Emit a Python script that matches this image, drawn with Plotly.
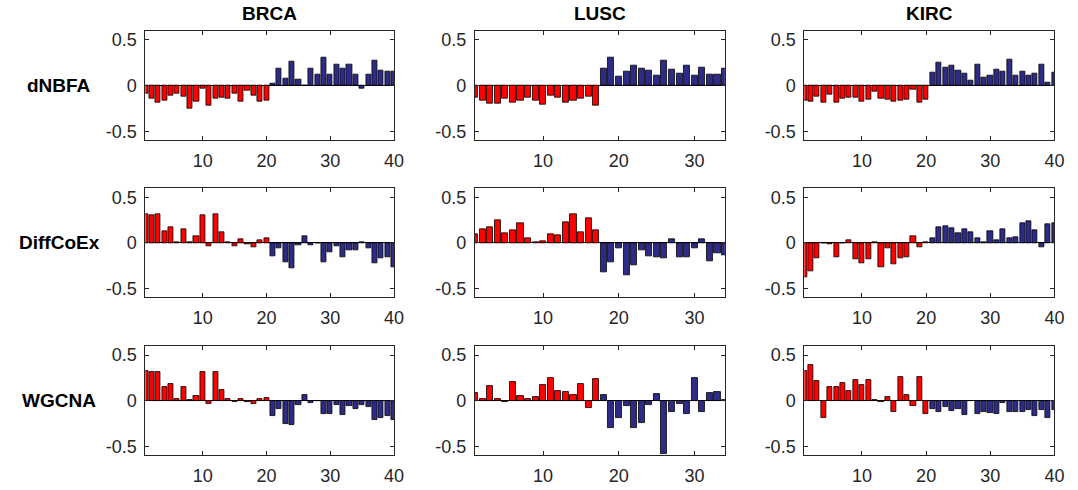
import plotly.graph_objects as go

# ---------------- data ----------------
methods = ["dNBFA", "DiffCoEx", "WGCNA"]
cancers = ["BRCA", "LUSC", "KIRC"]
n_red = {"BRCA": 20, "LUSC": 17, "KIRC": 20}
n_total = {"BRCA": 40, "LUSC": 34, "KIRC": 40}

brca_dnbfa = [-0.09, -0.145, -0.19, -0.17, -0.115, -0.09, -0.125, -0.255, -0.18, -0.035,
              -0.22, -0.14, -0.13, -0.14, -0.09, -0.18, -0.06, -0.115, -0.18, -0.16,
              0.02, 0.19, 0.08, 0.26, 0.065, -0.005, 0.19, 0.115, 0.30, 0.12,
              0.225, 0.18, 0.225, 0.12, -0.03, 0.115, 0.275, 0.16, 0.15, 0.15]
lusc_dnbfa = [-0.13, -0.17, -0.2, -0.2, -0.14, -0.19, -0.165, -0.135, -0.165, -0.21,
              -0.11, -0.13, -0.185, -0.16, -0.145, -0.12, -0.22,
              0.18, 0.30, 0.10, 0.15, 0.22, 0.18, 0.16, 0.105, 0.27,
              0.17, 0.135, 0.22, 0.105, 0.195, 0.115, 0.115, 0.18]
kirc_dnbfa = [-0.16, -0.18, -0.12, -0.19, -0.095, -0.185, -0.14, -0.13, -0.13, -0.18,
              -0.15, -0.07, -0.14, -0.15, -0.18, -0.17, -0.155, -0.045, -0.185, -0.15,
              0.14, 0.255, 0.195, 0.215, 0.16, 0.13, 0.05, 0.23, 0.085, 0.105,
              0.17, 0.15, 0.28, 0.11, 0.15, 0.105, 0.125, 0.225, 0.035, 0.14]

brca_diffcoex = [0.31, 0.30, 0.315, 0.13, 0.17, 0.01, 0.15, 0.005, 0.07, 0.30,
                 -0.04, 0.31, 0.115, 0.01, -0.035, 0.035, -0.015, -0.05, 0.03, 0.05,
                 -0.15, -0.06, -0.21, -0.28, -0.03, 0.075, -0.03, 0.0, -0.21, -0.10,
                 -0.035, -0.155, -0.08, -0.085, 0.005, -0.06, -0.225, -0.17, -0.16, -0.27]
lusc_diffcoex = [0.095, 0.145, 0.17, 0.245, 0.11, 0.14, 0.22, 0.045, 0.005, 0.015,
                 0.095, 0.08, 0.225, 0.315, 0.115, 0.27, 0.135,
                 -0.32, -0.215, -0.06, -0.36, -0.245, -0.085, -0.15, -0.155, -0.17,
                 0.04, -0.16, -0.16, -0.06, 0.04, -0.2, -0.115, -0.14]
kirc_diffcoex = [-0.375, -0.315, -0.17, 0.0, -0.02, -0.155, 0.0, 0.03, -0.185, -0.23,
                 -0.18, 0.005, -0.27, -0.065, -0.24, -0.175, -0.16, 0.07, -0.05, 0.003,
                 0.055, 0.17, 0.18, 0.165, 0.11, 0.15, 0.115, 0.045, 0.003, 0.13,
                 0.025, 0.15, 0.05, 0.065, 0.215, 0.235, 0.14, -0.05, 0.2, 0.22]

brca_wgcna = [0.33, 0.31, 0.31, 0.145, 0.18, 0.02, 0.155, 0.01, 0.055, 0.32,
              -0.035, 0.32, 0.115, 0.02, -0.01, 0.02, -0.01, -0.04, 0.02, 0.025,
              -0.165, -0.095, -0.26, -0.27, -0.05, 0.065, -0.025, -0.005, -0.15, -0.145,
              -0.045, -0.16, -0.06, -0.09, -0.05, -0.07, -0.21, -0.19, -0.165, -0.215]
lusc_wgcna = [0.08, 0.015, 0.165, 0.02, -0.015, 0.205, 0.05, 0.02, 0.035, 0.175,
              0.25, 0.105, 0.09, 0.065, 0.18, -0.08, 0.235,
              0.06, -0.295, -0.195, -0.06, -0.295, -0.25, -0.05, 0.07, -0.58,
              -0.12, -0.04, -0.145, 0.25, -0.12, 0.08, 0.09, 0.005]
kirc_wgcna = [0.33, 0.39, 0.22, -0.19, 0.145, 0.155, 0.19, 0.105, 0.225, 0.175,
              0.225, 0.005, -0.015, 0.04, -0.12, 0.26, 0.065, -0.06, 0.26, -0.145,
              -0.09, -0.12, -0.065, -0.11, -0.095, -0.16, -0.005, -0.145, -0.12, -0.13,
              -0.15, -0.03, -0.12, -0.12, -0.12, -0.105, -0.17, -0.105, -0.19, -0.10]

values = {
    ("dNBFA", "BRCA"): brca_dnbfa, ("dNBFA", "LUSC"): lusc_dnbfa, ("dNBFA", "KIRC"): kirc_dnbfa,
    ("DiffCoEx", "BRCA"): brca_diffcoex, ("DiffCoEx", "LUSC"): lusc_diffcoex, ("DiffCoEx", "KIRC"): kirc_diffcoex,
    ("WGCNA", "BRCA"): brca_wgcna, ("WGCNA", "LUSC"): lusc_wgcna, ("WGCNA", "KIRC"): kirc_wgcna,
}

y_ticks = [-0.5, 0, 0.5]
y_ticklabels = ["-0.5", "0", "0.5"]
x_ticks = {"BRCA": [10, 20, 30, 40], "LUSC": [10, 20, 30], "KIRC": [10, 20, 30, 40]}

# ---------------- style / layout ----------------
W, H = 1078, 490
RED = "#FF0000"
BLUE = "#2E2B87"
AX = "#262626"
FONT = "Liberation Sans, Arial, Helvetica, sans-serif"
TICK_SIZE = 18
TITLE_SIZE = 19
ROW_SIZE = 19

col_px = [(146.7, 397.7), (479.3, 731.7), (811.8, 1064.3)]
row_px = [(29.7, 140.0), (188.0, 297.5), (346.4, 456.2)]

fig = go.Figure()
layout = dict(
    width=W, height=H, margin=dict(l=0, r=0, t=0, b=0),
    paper_bgcolor="white", plot_bgcolor="white", showlegend=False,
    font=dict(family=FONT, size=TICK_SIZE, color=AX), bargap=0,
)
annotations = []

k = 0
for r, m in enumerate(methods):
    for c, ca in enumerate(cancers):
        k += 1
        xa = "x" if k == 1 else f"x{k}"
        ya = "y" if k == 1 else f"y{k}"
        vals = values[(m, ca)]
        xs = list(range(1, len(vals) + 1))
        colors = [RED if i < n_red[ca] else BLUE for i in range(len(vals))]
        fig.add_trace(go.Bar(
            x=xs, y=vals, width=0.8, xaxis=xa, yaxis=ya,
            marker=dict(color=colors, line=dict(color="black", width=0.8)),
            hoverinfo="x+y",
        ))
        x0, x1 = col_px[c]
        y0, y1 = row_px[r]
        layout["xaxis" if k == 1 else f"xaxis{k}"] = dict(
            domain=[x0 / W, x1 / W], anchor=ya, range=[1, n_total[ca]],
            tickmode="array", tickvals=x_ticks[ca], ticktext=[str(t) for t in x_ticks[ca]],
            ticks="inside", ticklen=4, tickcolor=AX, tickwidth=1,
            showline=True, linecolor=AX, linewidth=1, mirror="allticks",
            showgrid=False, zeroline=False, ticklabelstandoff=4,
            tickfont=dict(family=FONT, size=TICK_SIZE, color=AX), fixedrange=True,
        )
        layout["yaxis" if k == 1 else f"yaxis{k}"] = dict(
            domain=[1 - y1 / H, 1 - y0 / H], anchor=xa, range=[-0.6, 0.6],
            tickmode="array", tickvals=y_ticks, ticktext=y_ticklabels,
            ticks="inside", ticklen=4, tickcolor=AX, tickwidth=1,
            showline=True, linecolor=AX, linewidth=1, mirror="allticks",
            showgrid=False, zeroline=True, zerolinecolor="black", zerolinewidth=1,
            ticklabelstandoff=4,
            tickfont=dict(family=FONT, size=TICK_SIZE, color=AX), fixedrange=True,
        )
        if r == 0:
            annotations.append(dict(
                text=f"<b>{ca}</b>", xref="paper", yref="paper",
                x=(x0 + x1) / 2 / W, y=1 - 13 / H, showarrow=False,
                xanchor="center", yanchor="middle",
                font=dict(family=FONT, size=TITLE_SIZE, color="black"),
            ))
    y0, y1 = row_px[r]
    yzero = y0 + (y1 - y0) / 2
    annotations.append(dict(
        text=f"<b>{m}</b>", xref="paper", yref="paper",
        x=60 / W, y=1 - yzero / H, showarrow=False,
        xanchor="center", yanchor="middle",
        font=dict(family=FONT, size=ROW_SIZE, color="black"),
    ))

layout["annotations"] = annotations
fig.update_layout(**layout)
fig.write_html("out.html")
